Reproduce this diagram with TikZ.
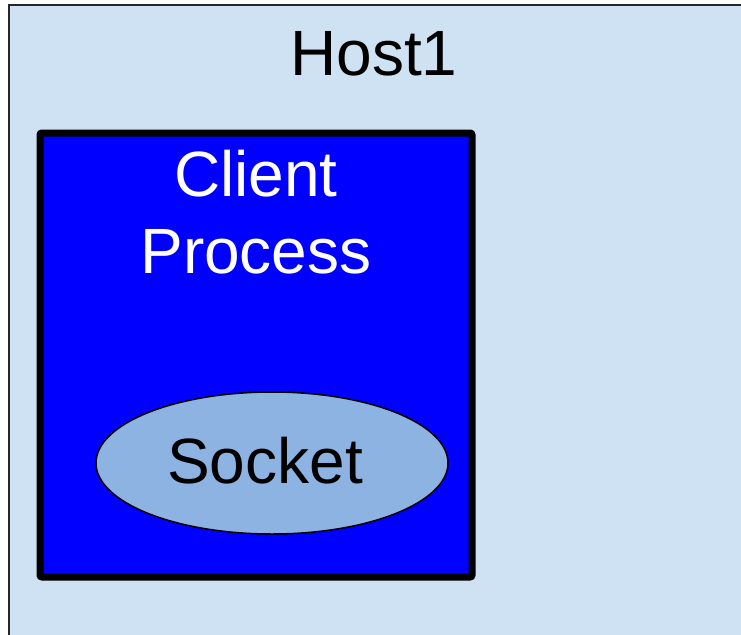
\documentclass[tikz,border=0pt]{standalone}
\usepackage{fontspec}
\setmainfont{Liberation Sans}
\usetikzlibrary{shapes.geometric}
\definecolor{hostfill}{HTML}{CFE2F3}
\definecolor{procfill}{HTML}{0000FF}
\definecolor{sockfill}{HTML}{8DB3E2}
\tikzset{
  hostbox/.style={draw=black!85, line width=1.5pt, fill=hostfill},
  procbox/.style={draw=black, line width=7pt, fill=procfill, rounded corners=2pt},
  sockshape/.style={ellipse, draw=black, line width=1.5pt, fill=sockfill,
    minimum width=352pt, minimum height=142pt, inner sep=0pt},
  bigtext/.style={font=\fontsize{64}{77}\selectfont, inner sep=0pt, align=center}
}
\begin{document}
\begin{tikzpicture}[x=1pt,y=-1pt]
  \useasboundingbox (0,0) rectangle (741,634);
  % host machine, running off the right and bottom edges
  \draw[hostbox] (9,5) rectangle (760,660);
  \node[bigtext] (host) at (374,54) {Host1};
  % client process
  \draw[procbox] (40,133) rectangle (472,577);
  \node[bigtext, text=white] (proc) at (256,212) {Client\\Process};
  % socket inside the process
  \node[sockshape] (sock) at (272,463) {};
  \node[bigtext] (socklbl) at (265,461) {Socket};
\end{tikzpicture}
\end{document}
